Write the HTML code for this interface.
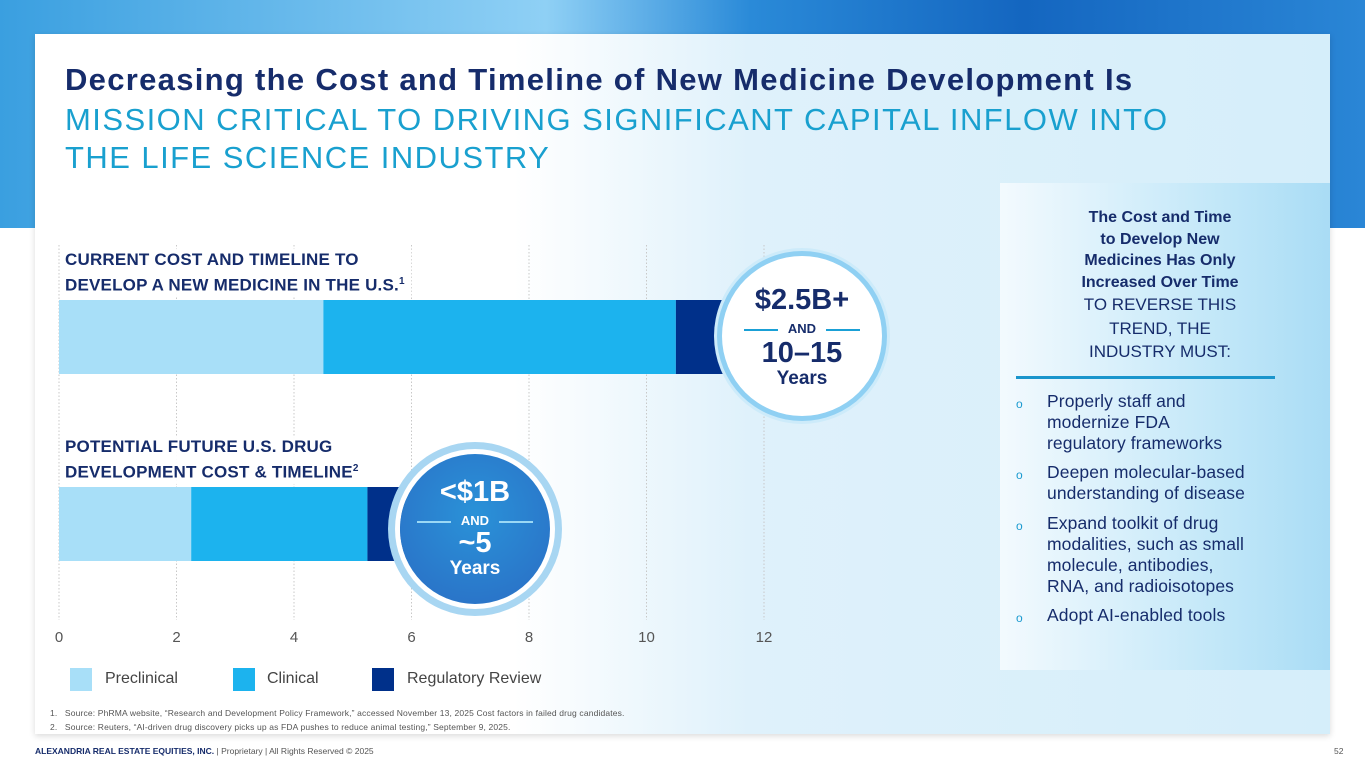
<!DOCTYPE html>
<html><head><meta charset="utf-8"><style>
body{margin:0;width:1365px;height:768px;overflow:hidden;background:#fff;font-family:"Liberation Sans",sans-serif;position:relative}
.abs{position:absolute}
#band{left:0;top:0;width:1365px;height:228px;background:linear-gradient(90deg,#3a9fe0 0%,#8fd0f5 40%,#2a8ad8 55%,#1466c0 75%,#2a86d6 100%)}
#card{left:35px;top:34px;width:1295px;height:700px;background:linear-gradient(90deg,#fff 0%,#fff 37%,#dff1fb 55%,#d5eefa 100%);box-shadow:0 2px 6px rgba(0,0,0,.15)}
#panel{left:1000px;top:183px;width:330px;height:487px;background:linear-gradient(90deg,#f3fafe 0%,#bfe6f8 70%,#a9dcf5 100%)}
.t1{left:65px;top:62px;font-size:31px;font-weight:bold;color:#162c6b;letter-spacing:1.3px;white-space:nowrap}
.t2{left:65px;top:101px;font-size:31px;color:#19a0cf;line-height:38px;letter-spacing:1.45px;white-space:nowrap}
.lab{font-size:17px;font-weight:bold;color:#162c6b;line-height:22px;letter-spacing:0.2px;background:linear-gradient(90deg,rgba(255,255,255,0.95) 80%,rgba(255,255,255,0));padding-right:30px}
.circle{border-radius:50%;text-align:center;color:#162c6b;font-weight:bold}
.rp{font-size:16px;color:#162c6b;text-align:center;line-height:21.5px}
.bul{font-size:17.5px;color:#162c6b;line-height:21px;left:1047px;width:285px;letter-spacing:0.1px}
.o{left:1016px;font-size:12px;color:#1a9ad0}
</style></head><body>
<div id="band" class="abs"></div>
<div id="card" class="abs"></div>
<div id="panel" class="abs"></div>
<div class="abs t1">Decreasing the Cost and Timeline of New Medicine Development Is</div>
<div class="abs t2">MISSION CRITICAL TO DRIVING SIGNIFICANT CAPITAL INFLOW INTO<br>THE LIFE SCIENCE INDUSTRY</div>

<svg class="abs" style="left:0;top:0" width="1000" height="700">
<g id="grid"></g><g id="bars"></g><g id="ticks"></g>
</svg>
<div class="abs lab" style="left:65px;top:249px">CURRENT COST AND TIMELINE TO<br>DEVELOP A NEW MEDICINE IN THE U.S.<sup style="font-size:10px">1</sup></div>
<div class="abs lab" style="left:65px;top:436px">POTENTIAL FUTURE U.S. DRUG<br>DEVELOPMENT COST &amp; TIMELINE<sup style="font-size:10px">2</sup></div>

<div class="abs circle" style="left:722px;top:256px;width:160px;height:160px;background:#fff;box-shadow:0 0 0 5px #8fd0f3,0 0 0 8px #cdebfa">
<div style="font-size:29px;margin-top:28px">$2.5B+</div>
<div style="font-size:13px;margin-top:4px"><span style="display:inline-block;width:34px;border-top:2px solid #1aa0d6;vertical-align:middle;margin-right:10px"></span>AND<span style="display:inline-block;width:34px;border-top:2px solid #1aa0d6;vertical-align:middle;margin-left:10px"></span></div>
<div style="font-size:29px;margin-top:2px;line-height:30px">10–15</div>
<div style="font-size:19px">Years</div></div>

<div class="abs circle" style="left:400px;top:454px;width:150px;height:150px;background:radial-gradient(circle at 50% 40%,#2a92d8,#2a6cc4);box-shadow:0 0 0 5px #fff,0 0 0 12px #a8d6f2;color:#fff">
<div style="font-size:29px;margin-top:22px">&lt;$1B</div>
<div style="font-size:13px;margin-top:4px"><span style="display:inline-block;width:34px;border-top:2px solid #9ad8f5;vertical-align:middle;margin-right:10px"></span>AND<span style="display:inline-block;width:34px;border-top:2px solid #9ad8f5;vertical-align:middle;margin-left:10px"></span></div>
<div style="font-size:29px;line-height:30px">~5</div>
<div style="font-size:19px">Years</div></div>

<div class="abs" style="left:70px;top:668px;width:22px;height:23px;background:#a8dff8"></div>
<div class="abs" style="left:105px;top:670px;font-size:16px;color:#444">Preclinical</div>
<div class="abs" style="left:233px;top:668px;width:22px;height:23px;background:#1cb3ee"></div>
<div class="abs" style="left:267px;top:670px;font-size:16px;color:#444">Clinical</div>
<div class="abs" style="left:372px;top:668px;width:22px;height:23px;background:#00308a"></div>
<div class="abs" style="left:407px;top:670px;font-size:16px;color:#444">Regulatory Review</div>

<div class="abs" style="left:50px;top:706px;font-size:8.5px;color:#555;line-height:14px;letter-spacing:0.15px">1.&nbsp;&nbsp; Source: PhRMA website, “Research and Development Policy Framework,” accessed November 13, 2025 Cost factors in failed drug candidates.<br>2.&nbsp;&nbsp; Source: Reuters, “AI-driven drug discovery picks up as FDA pushes to reduce animal testing,” September 9, 2025.</div>
<div class="abs" style="left:35px;top:746px;font-size:8.5px;color:#555"><b style="color:#162c6b">ALEXANDRIA REAL ESTATE EQUITIES, INC.</b> | Proprietary | All Rights Reserved © 2025</div>
<div class="abs" style="left:1334px;top:746px;font-size:8.5px;color:#555">52</div>

<div class="abs rp" style="left:1010px;top:207px;width:300px"><b>The Cost and Time<br>to Develop New<br>Medicines Has Only<br>Increased Over Time</b><br><span style="font-size:17px;line-height:23px">TO REVERSE THIS<br>TREND, THE<br>INDUSTRY MUST:</span></div>
<div class="abs" style="left:1016px;top:376px;width:259px;height:3px;background:#1a95cc"></div>
<div class="abs o" style="top:397px">o</div>
<div class="abs bul" style="top:391px">Properly staff and<br>modernize FDA<br>regulatory frameworks</div>
<div class="abs o" style="top:468px">o</div>
<div class="abs bul" style="top:462px">Deepen molecular-based<br>understanding of disease</div>
<div class="abs o" style="top:519px">o</div>
<div class="abs bul" style="top:513px">Expand toolkit of drug<br>modalities, such as small<br>molecule, antibodies,<br>RNA, and radioisotopes</div>
<div class="abs o" style="top:611px">o</div>
<div class="abs bul" style="top:605px">Adopt AI-enabled tools</div>

<script>
const categories=["Current","Potential Future"];
const preclinical=[4.5,2.25];
const clinical=[6.0,3.0];
const regulatory=[1.5,0.75];
const tickValues=[0,2,4,6,8,10,12];
const tickLabels=["0","2","4","6","8","10","12"];
const NS="http://www.w3.org/2000/svg";
const x=v=>59+v*58.75;
const rowY=[300,487], barH=74;
const colors=["#a8dff8","#1cb3ee","#00308a"];
const grid=document.getElementById('grid'),bars=document.getElementById('bars'),ticks=document.getElementById('ticks');
tickValues.forEach((t,i)=>{
  const l=document.createElementNS(NS,'line');
  l.setAttribute('x1',x(t));l.setAttribute('x2',x(t));l.setAttribute('y1',245);l.setAttribute('y2',620);
  l.setAttribute('stroke','#c8c8c8');l.setAttribute('stroke-dasharray','1.5 2');
  
  
  grid.appendChild(l);
  const tx=document.createElementNS(NS,'text');
  tx.setAttribute('x',x(t));tx.setAttribute('y',642);tx.setAttribute('text-anchor','middle');
  tx.setAttribute('font-size','15');tx.setAttribute('fill','#555');tx.setAttribute('font-family','Liberation Sans, sans-serif');
  tx.textContent=tickLabels[i];
  
  
  ticks.appendChild(tx);
});
categories.forEach((c,i)=>{
  const segs=[preclinical[i],clinical[i],regulatory[i]];
  let acc=0;
  segs.forEach((s,j)=>{
    const r=document.createElementNS(NS,'rect');
    r.setAttribute('x',x(acc));r.setAttribute('width',x(acc+s)-x(acc));
    r.setAttribute('y',rowY[i]);r.setAttribute('height',barH);r.setAttribute('fill',colors[j]);
    
    
    bars.appendChild(r);
    acc+=s;
  });
});
</script>
</body></html>
